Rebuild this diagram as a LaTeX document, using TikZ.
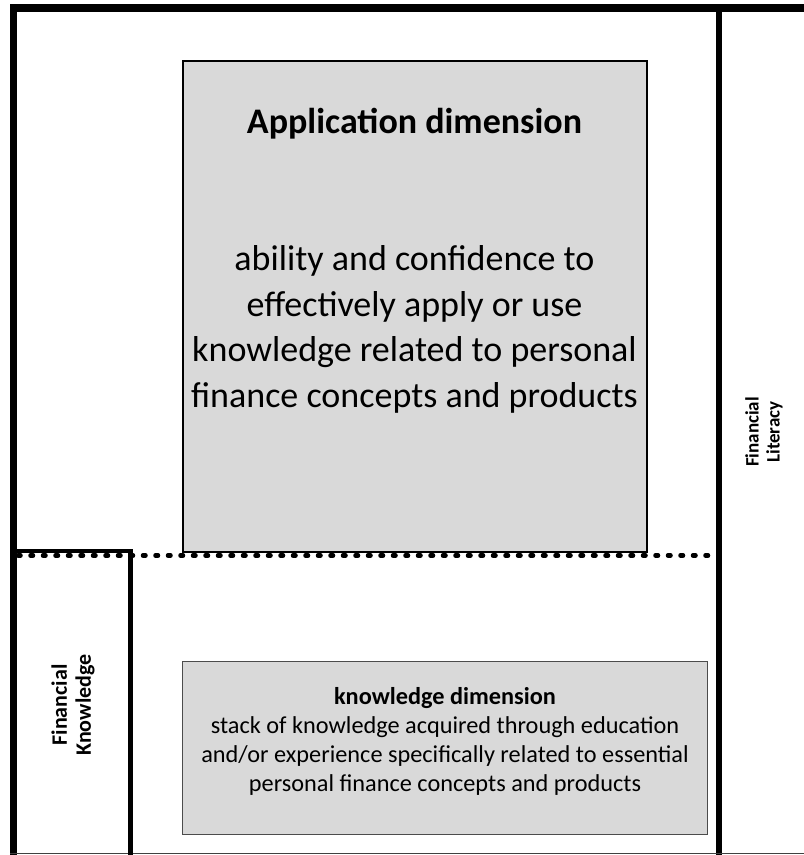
\documentclass[tikz,border=0pt]{standalone}
\usepackage{fontspec}
\setmainfont{Carlito}
\definecolor{boxgray}{RGB}{217,217,217}
\begin{document}
\begin{tikzpicture}[x=1pt,y=-1pt,
  frameline/.style={line width=#1, line join=miter},
  dimbox/.style={draw, fill=boxgray, inner sep=0pt, outer sep=0pt},
  sidelabel/.style={rotate=90, align=center, font=\bfseries}]
\useasboundingbox (0,0) rectangle (804,855);
\fill[white] (0,0) rectangle (804,855);
% application box
\node[dimbox, line width=2pt, minimum width=464pt, minimum height=491pt] (app) at (414.5,306) {};
\node[anchor=base, font=\fontsize{36}{40}\selectfont\bfseries] (apptitle) at (414.5,133) {Application dimension};
\node[align=center, font=\fontsize{36}{45.5}\selectfont] (apptext) at (414.5,329.5) {ability and confidence to\\effectively apply or use\\knowledge related to personal\\finance concepts and products};
% knowledge box
\node[dimbox, draw=black!70, line width=1.2pt, minimum width=525pt, minimum height=173pt] (know) at (445,748) {};
\node[align=center, font=\fontsize{24.3}{29}\selectfont] (knowtext) at (445,741.5) {\textbf{knowledge dimension}\\stack of knowledge acquired through education\\and/or experience specifically related to essential\\personal finance concepts and products};
% frame
\coordinate (tl) at (13.5,8);
\coordinate (bl) at (13.5,855);
\coordinate (tr) at (804,8);
\coordinate (rt) at (719,8);
\coordinate (rb) at (719,855);
\coordinate (bb1) at (10,853.5);
\coordinate (bb2) at (804,853.5);
\draw[frameline=7.5pt] (bl) -- (tl) -- (tr);
\draw[frameline=5.5pt] (rt) -- (rb);
\draw[line width=1.5pt, black!75] (bb1) -- (bb2);
% financial knowledge box
\coordinate (fk1) at (13.5,551);
\coordinate (fk2) at (130.5,551);
\coordinate (fk3) at (130.5,855);
\draw[frameline=4.5pt] (fk1) -- (fk2) -- (fk3);
% dotted divider
\coordinate (d1) at (18,555.5);
\coordinate (d2) at (714,555.5);
\draw[line width=4.5pt, line cap=round, dash pattern=on 2.5pt off 10pt] (d1) -- (d2);
% side labels
\node[sidelabel, font=\fontsize{22}{24}\selectfont\bfseries] (fk) at (73,705) {Financial\\Knowledge};
\node[sidelabel, font=\fontsize{19}{21}\selectfont\bfseries] (fl) at (764,432) {Financial\\Literacy};
\end{tikzpicture}
\end{document}
